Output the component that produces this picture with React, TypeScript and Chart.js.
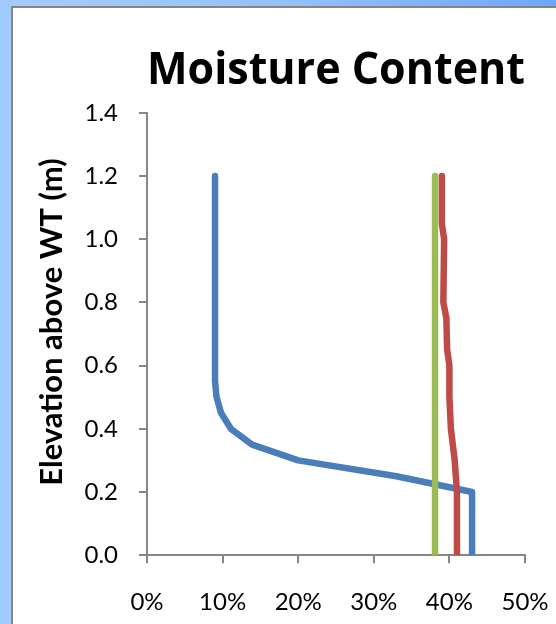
import React, { useEffect, useRef } from "react";
import { Chart, registerables } from "chart.js";

Chart.register(...registerables);

// Blue profile
const blueElevation = [0, 0.2, 0.25, 0.3, 0.35, 0.4, 0.45, 0.5, 0.55, 0.6, 0.8, 1.0, 1.2];
const blueMoisture = [0.43, 0.43, 0.33, 0.2, 0.139, 0.111, 0.098, 0.092, 0.09, 0.09, 0.09, 0.09, 0.09];

// Red profile
const redElevation = [0, 0.2, 0.3, 0.4, 0.5, 0.6, 0.65, 0.75, 0.8, 1.0, 1.05, 1.2];
const redMoisture = [0.41, 0.41, 0.407, 0.402, 0.4, 0.4, 0.397, 0.396, 0.392, 0.393, 0.39, 0.39];

// Green profile
const greenElevation = [0, 1.2];
const greenMoisture = [0.381, 0.381];

const xTickValues = [0, 0.1, 0.2, 0.3, 0.4, 0.5];
const yTickValues = [0, 0.2, 0.4, 0.6, 0.8, 1.0, 1.2, 1.4];

const chartTitle = "Moisture Content";
const yAxisTitle = "Elevation above WT (m)";

const toPoints = (xs: number[], ys: number[]) => xs.map((x, i) => ({ x, y: ys[i] }));

// Draws the rotated y-axis title beside the axis (slightly above the centre, as in the original)
const yTitlePlugin = {
  id: "yTitlePlugin",
  afterDraw(chart: any) {
    const { ctx, chartArea } = chart;
    ctx.save();
    ctx.font = "bold 31px Lato";
    ctx.fillStyle = "#000";
    ctx.textAlign = "center";
    ctx.textBaseline = "middle";
    ctx.translate(chartArea.left - 95, (chartArea.top + chartArea.bottom) / 2 - 12);
    ctx.rotate(-Math.PI / 2);
    ctx.fillText(yAxisTitle, 0, 0);
    ctx.restore();
  },
};

export default function App() {
  const canvasRef = useRef<HTMLCanvasElement | null>(null);

  useEffect(() => {
    const canvas = canvasRef.current;
    if (!canvas) return;
    const axisGray = "#868686";
    const lineBase = {
      showLine: true,
      borderWidth: 6.5,
      pointRadius: 0,
      borderCapStyle: "round",
      borderJoinStyle: "round",
    };
    const chart = new Chart(canvas, {
      type: "scatter",
      data: {
        datasets: [
          { ...lineBase, label: "Blue", data: toPoints(blueMoisture, blueElevation), borderColor: "#4A7EBB", order: 3 },
          { ...lineBase, label: "Red", data: toPoints(redMoisture, redElevation), borderColor: "#BE4B48", order: 2 },
          { ...lineBase, label: "Green", data: toPoints(greenMoisture, greenElevation), borderColor: "#9BBB59", order: 1 },
        ],
      },
      options: {
        animation: false,
        responsive: false,
        maintainAspectRatio: false,
        layout: { padding: { left: 0, top: 0, right: 31, bottom: 7 } },
        plugins: {
          legend: { display: false },
          tooltip: { enabled: false },
          title: {
            display: true,
            text: chartTitle,
            fullSize: false,
            color: "#000",
            font: { family: "Open Sans", size: 44, weight: "bold", lineHeight: 1.2 },
            padding: { top: 37, bottom: 15 },
          },
        },
        scales: {
          x: {
            type: "linear",
            min: 0,
            max: 0.5,
            afterBuildTicks: (scale: any) => {
              scale.ticks = xTickValues.map((v) => ({ value: v }));
            },
            afterFit: (scale: any) => {
              scale.height = 8 + 25 + 24 * 1.2;
              scale.paddingLeft = 0;
              scale.paddingRight = 0;
            },
            ticks: {
              color: "#000",
              font: { family: "Lato", size: 24 },
              padding: 25,
              maxRotation: 0,
              callback: (v: any) => Math.round(Number(v) * 100) + "%",
            },
            grid: {
              drawOnChartArea: false,
              drawTicks: true,
              tickLength: 8,
              color: axisGray,
              lineWidth: 2,
            },
            border: { display: true, color: axisGray, width: 2 },
          },
          y: {
            type: "linear",
            min: 0,
            max: 1.4,
            afterBuildTicks: (scale: any) => {
              scale.ticks = yTickValues.map((v) => ({ value: v }));
            },
            afterFit: (scale: any) => {
              scale.width = 134;
              scale.paddingTop = 0;
              scale.paddingBottom = 0;
            },
            ticks: {
              color: "#000",
              font: { family: "Lato", size: 24 },
              padding: 21,
              callback: (v: any) => Number(v).toFixed(1),
            },
            grid: {
              drawOnChartArea: false,
              drawTicks: true,
              tickLength: 8,
              color: axisGray,
              lineWidth: 2,
            },
            border: { display: true, color: axisGray, width: 2 },
          },
        },
      },
      plugins: [yTitlePlugin],
    } as any);
    return () => chart.destroy();
  }, []);

  return (
    <div
      style={{
        position: "fixed",
        left: 0,
        top: 0,
        width: 556,
        height: 624,
        background: "linear-gradient(90deg, #A4CDFD 0%, #95C2FD 50%, #6CA7FD 100%)",
        overflow: "hidden",
      }}
    >
      <div
        style={{
          position: "absolute",
          left: 0,
          top: 0,
          width: 11,
          height: 624,
          background: "#A2CBFD",
        }}
      />
      <div
        style={{
          position: "absolute",
          left: 11,
          top: 6,
          width: 545,
          height: 618,
          background: "#fff",
          borderLeft: "2px solid #858585",
          borderTop: "2px solid #858585",
          boxSizing: "border-box",
        }}
      >
        <canvas
          ref={canvasRef}
          width={543}
          height={616}
          style={{ display: "block", width: 543, height: 616 }}
        />
      </div>
    </div>
  );
}
